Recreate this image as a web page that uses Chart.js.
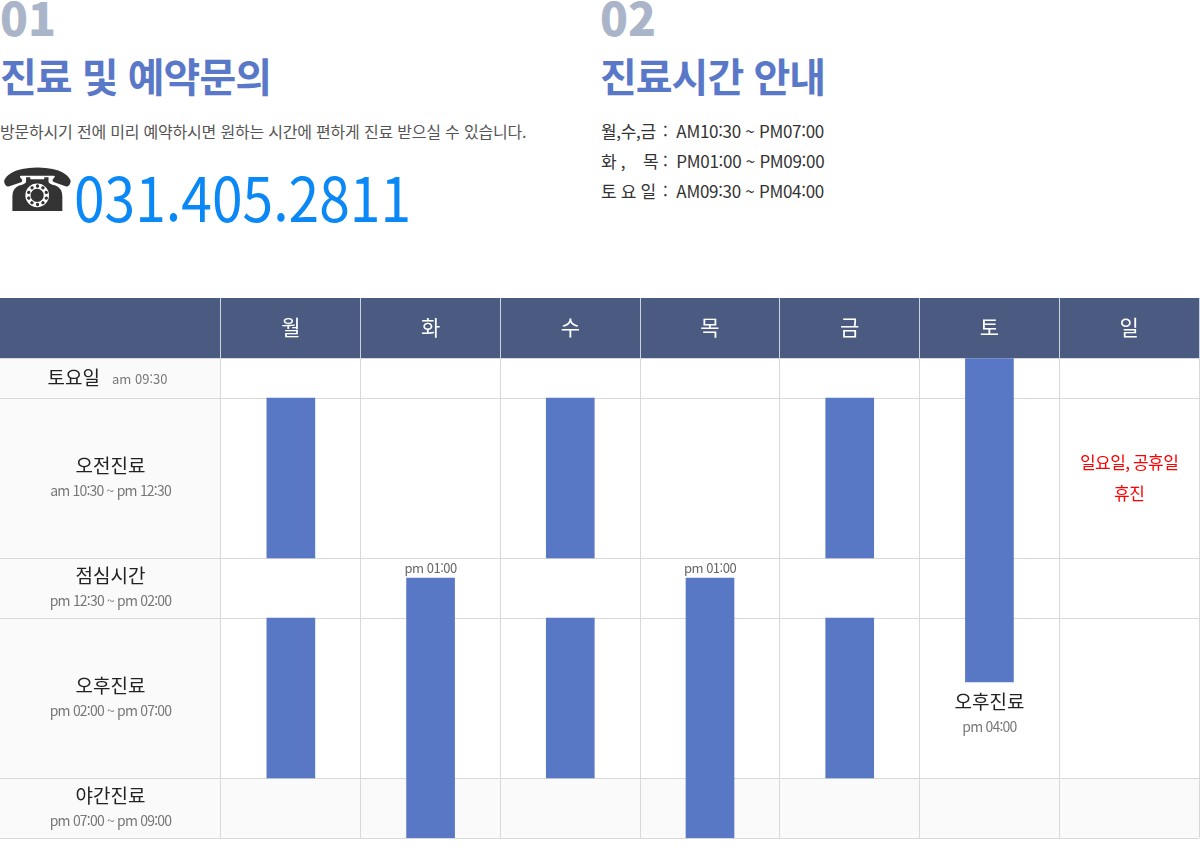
<!DOCTYPE html>
<html lang="ko">
<head>
<meta charset="utf-8">
<title>진료시간 안내</title>
<script src="https://cdn.jsdelivr.net/npm/chart.js@4.4.1/dist/chart.umd.min.js"></script>
<style>
    body  { margin: 0; width: 1200px; height: 862px; position: relative; overflow: hidden;
            background: #fff; font-family: 'Noto Sans CJK KR', 'Noto Sans', sans-serif; }
    .abs  { position: absolute; white-space: nowrap; line-height: 1; }
    .num  { font-size: 46px; font-weight: 900; color: #aab5c9; }
    .title{ font-size: 40px; font-weight: 700; color: #5a78c8; letter-spacing: -1px; }
    .desc { font-size: 16px; color: #555; letter-spacing: -0.2px; }
    .phone{ font-size: 62px; color: #0a88f5; transform: scaleX(0.89); transform-origin: left top; }
    .tel  { font-size: 60px; color: #333; font-family: 'DejaVu Sans'; }
    .hours{ font-size: 17px; color: #333; line-height: 30px; letter-spacing: -0.3px; }
    .hours .lb { display: inline-block; width: 62px; }
    #wrap { position: absolute; left: 0; top: 298px; width: 1200px; height: 541px; }
</style>
</head>
<body>
<div class="abs num" style="left:0; top:-7px;">01</div>
<div class="abs title" style="left:0; top:55px;">진료 및 예약문의</div>
<div class="abs desc" style="left:0; top:123px;">방문하시기 전에 미리 예약하시면 원하는 시간에 편하게 진료 받으실 수 있습니다.</div>
<div class="abs tel" style="left:0; top:160px;">☎</div>
<div class="abs phone" style="left:74px; top:164px;">031.405.2811</div>

<div class="abs num" style="left:600px; top:-7px;">02</div>
<div class="abs title" style="left:600px; top:55px;">진료시간 안내</div>
<div class="abs hours" style="left:601px; top:116px;">
    <div><span class="lb">월,수,금</span>: &nbsp;AM10:30 ~ PM07:00</div>
    <div><span class="lb">화 ,&nbsp;&nbsp;&nbsp;&nbsp;목</span>: &nbsp;PM01:00 ~ PM09:00</div>
    <div><span class="lb">토 요 일</span>: &nbsp;AM09:30 ~ PM04:00</div>
</div>

<div id="wrap"><canvas id="timeTable" width="1200" height="541"></canvas></div>

<script>
// 요일, 구분, 진료시간 (시 단위, 10.5 = 10:30)
const days = ['월', '화', '수', '목', '금', '토', '일'];
const rowNames = ['토요일', '오전진료', '점심시간', '오후진료', '야간진료'];
const rowTimes = ['am 09:30', 'am 10:30 ~ pm 12:30', 'pm 12:30 ~ pm 02:00', 'pm 02:00 ~ pm 07:00', 'pm 07:00 ~ pm 09:00'];
const rowEdges = [9.5, 10.5, 12.5, 14, 19, 21];

const morningHours   = [[10.5, 12.5], null, [10.5, 12.5], null, [10.5, 12.5], null, null];
const afternoonHours = [[14, 19], null, [14, 19], null, [14, 19], null, null];
const lateHours      = [null, [13, 21], null, [13, 21], null, null, null];
const saturdayHours  = [null, null, null, null, null, [9.5, 16], null];

const startNotes = [null, 'pm 01:00', null, 'pm 01:00', null, null, null];
const endNotes   = [null, null, null, null, null, ['오후진료', 'pm 04:00'], null];
const closedDay  = '일';
const closedNote = ['일요일, 공휴일', '휴진'];

// 행 높이 (표시 단위) - 시간 구간마다 높이가 다름
const rowSpan = [40, 160, 60, 160, 60];
const rowTop = [0];
rowSpan.forEach((s, i) => rowTop.push(rowTop[i] + s));

function toAxis(h) {
    for (let i = 0; i < rowSpan.length; i++) {
        if (h <= rowEdges[i + 1]) {
            return rowTop[i] + (h - rowEdges[i]) / (rowEdges[i + 1] - rowEdges[i]) * rowSpan[i];
        }
    }
    return rowTop[rowSpan.length];
}
const toBars = arr => arr.map(r => r ? r.map(toAxis) : null);

const allHours = [morningHours, afternoonHours, lateHours, saturdayHours];
function spanOf(i) {
    const list = allHours.map(a => a[i]).filter(v => v);
    return [Math.min(...list.map(v => v[0])), Math.max(...list.map(v => v[1]))];
}

const FONT = "'Noto Sans CJK KR', 'Noto Sans', sans-serif";
const BAR = '#5877c4';

const tablePlugin = {
    id: 'table',
    beforeDraw(chart) {
        const {ctx, chartArea: a, scales: {y}} = chart;
        ctx.save();
        ctx.fillStyle = '#4a5a80';
        ctx.fillRect(0, 0, a.right, a.top);
        ctx.fillStyle = '#fafafa';
        ctx.fillRect(0, a.top, a.left, a.bottom - a.top);
        const lastTop = y.getPixelForValue(rowTop[rowTop.length - 2]);
        ctx.fillRect(a.left, lastTop, a.right - a.left, a.bottom - lastTop);
        ctx.restore();
    },
    afterDraw(chart) {
        const {ctx, chartArea: a, scales: {x, y}} = chart;
        ctx.save();
        ctx.textAlign = 'center';
        ctx.textBaseline = 'middle';
        const cx = a.left / 2;

        rowNames.forEach((name, i) => {
            const top = y.getPixelForValue(rowTop[i]);
            const bottom = y.getPixelForValue(rowTop[i + 1]);
            const mid = (top + bottom) / 2;
            if (bottom - top < 50) {
                ctx.font = '19px ' + FONT;
                const w1 = ctx.measureText(name).width;
                ctx.font = '13px ' + FONT;
                const w2 = ctx.measureText(rowTimes[i]).width;
                const gap = 12;
                const left = cx - (w1 + gap + w2) / 2 - 3;
                ctx.textAlign = 'left';
                ctx.font = '19px ' + FONT;
                ctx.fillStyle = '#222';
                ctx.fillText(name, left, mid);
                ctx.font = '13px ' + FONT;
                ctx.fillStyle = '#777';
                ctx.fillText(rowTimes[i], left + w1 + gap, mid + 1);
                ctx.textAlign = 'center';
            } else {
                ctx.font = '19px ' + FONT;
                ctx.fillStyle = '#222';
                ctx.fillText(name, cx, mid - 12);
                ctx.font = '14px ' + FONT;
                ctx.letterSpacing = '-0.8px';
                ctx.fillStyle = '#777';
                ctx.fillText(rowTimes[i], cx, mid + 13);
                ctx.letterSpacing = '0px';
            }
        });

        days.forEach((d, i) => {
            const px = x.getPixelForValue(i);
            if (startNotes[i]) {
                const top = y.getPixelForValue(toAxis(spanOf(i)[0]));
                ctx.font = '13px ' + FONT;
                ctx.letterSpacing = '-0.5px';
                ctx.fillStyle = '#666';
                ctx.fillText(startNotes[i], px, top - 10);
                ctx.letterSpacing = '0px';
            }
            if (endNotes[i]) {
                const end = y.getPixelForValue(toAxis(spanOf(i)[1]));
                ctx.font = '19px ' + FONT;
                ctx.fillStyle = '#222';
                ctx.fillText(endNotes[i][0], px, end + 20);
                ctx.font = '14px ' + FONT;
                ctx.letterSpacing = '-0.8px';
                ctx.fillStyle = '#777';
                ctx.fillText(endNotes[i][1], px, end + 45);
                ctx.letterSpacing = '0px';
            }
        });

        const sx = x.getPixelForValue(days.indexOf(closedDay));
        const sy = (y.getPixelForValue(rowTop[1]) + y.getPixelForValue(rowTop[2])) / 2;
        ctx.font = '17px ' + FONT;
        ctx.letterSpacing = '-0.5px';
        ctx.fillStyle = '#ff0000';
        ctx.fillText(closedNote[0], sx, sy - 15);
        ctx.fillText(closedNote[1], sx, sy + 16);
        ctx.restore();
    }
};

const barSet = (label, arr) => ({
    label      : label,
    data       : toBars(arr),
    backgroundColor: BAR,
    borderWidth: 0,
    barThickness: 48,
    grouped    : false
});

new Chart(document.getElementById('timeTable'), {
    type: 'bar',
    data: {
        labels  : days,
        datasets: [
            barSet('오전진료', morningHours),
            barSet('오후진료', afternoonHours),
            barSet('야간진료', lateHours),
            barSet('토요일', saturdayHours)
        ]
    },
    options: {
        responsive: false,
        animation : false,
        layout    : { padding: { right: 1, bottom: 1 } },
        plugins   : { legend: { display: false }, tooltip: { enabled: false } },
        scales    : {
            x: {
                position: 'top',
                grid    : { offset: true, color: '#d9d9d9', tickColor: '#cdd2dd', tickLength: 60 },
                border  : { display: false },
                ticks   : { color: '#fff', font: { family: FONT, size: 21 }, padding: -42 },
                afterFit(s) { s.height = 60; }
            },
            y: {
                min    : 0,
                max    : rowTop[rowTop.length - 1],
                reverse: true,
                afterBuildTicks(s) { s.ticks = rowTop.map(v => ({ value: v })); },
                grid   : { color: '#d9d9d9', tickColor: '#d9d9d9', tickLength: 221 },
                border : { display: false },
                ticks  : { display: false },
                afterFit(s) { s.width = 221; }
            }
        }
    },
    plugins: [tablePlugin]
});
</script>
</body>
</html>
